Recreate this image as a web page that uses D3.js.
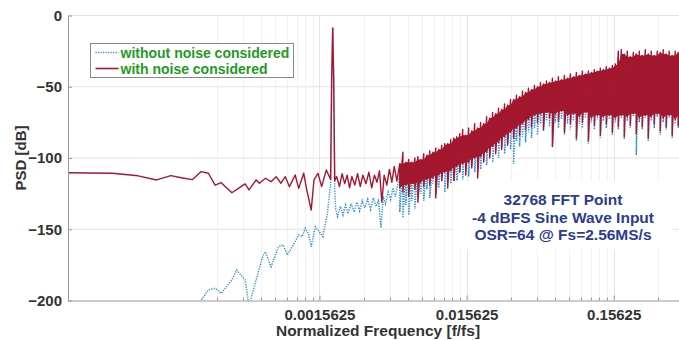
<!DOCTYPE html>
<html>
<head>
<meta charset="utf-8">
<script src="https://cdn.jsdelivr.net/npm/d3@7/dist/d3.min.js"></script>
<style>
  html, body { margin: 0; padding: 0; background: #fff; }
  svg { display: block; font-family: "Liberation Sans", Arial, sans-serif; }
</style>
</head>
<body>
<div id="chart"></div>
<script>
// FFT length, bins are k / FFT_N in normalized frequency
const FFT_N = 32768;

// x tick labels (normalized frequency) and y ticks (dB)
const xTickValues = [0.0015625, 0.015625, 0.15625];
const xTickLabels = ['0.0015625', '0.015625', '0.15625'];
const yTickValues = [0, -50, -100, -150, -200];
const minorDecades = [0.00015625, 0.0015625, 0.015625, 0.15625];
const minorMults = [2, 3, 4, 5, 6, 7, 8, 9];

// "with noise considered" - low frequency part (bin, dB)
const redLowBins = [1, 2, 3, 4, 5, 6, 7, 8, 9, 10, 11, 13, 15, 16, 17, 19, 20, 22, 24, 26, 28, 30, 32,
  35, 37, 40, 42, 45, 47, 50, 53, 57, 61, 62, 63, 64, 65, 67, 70, 73, 76, 79, 82, 85, 89, 93, 97,
  101, 106, 111, 116, 121, 126, 131, 136, 141, 147, 153, 159, 165, 172];
const redLowDb = [-110.3, -110.7, -112.5, -115.4, -112.4, -114, -115.2, -109.6, -110.7, -119, -117.3,
  -124.4, -120.1, -118.2, -122.4, -115.4, -117.7, -114.2, -116.6, -113.1, -117.7, -113.1, -120.1,
  -111.9, -121.3, -110.7, -122.5, -136.5, -115.4, -110.7, -120.1, -108.4, -115, -45, -8.8, -45, -116,
  -113, -120, -111, -118, -112, -121, -113, -119, -111, -120, -112, -118, -110, -121, -112, -117,
  -109, -131, -112, -119, -108, -117, -106, -116];

// "without noise considered" - low frequency part (bin, dB)
const blueLowBins = [7, 8, 9, 10, 11, 13, 14, 16, 17, 19, 21, 22, 24, 27, 29, 31, 34, 37, 39, 41,
  43, 45, 48, 51, 54, 58, 61, 62, 63, 64, 65, 66, 68, 71, 74, 77, 80, 84, 88, 92,
  96, 100, 104, 109, 114, 119, 124, 129, 134, 139, 144, 150, 156, 162, 168, 174];
const blueLowDb = [-212, -200, -192.6, -191.4, -195, -185.6, -178.6, -185.6, -204, -185.6,
  -169.3, -165.8, -176.3, -162.2, -161, -168, -161, -154, -155.2, -149.3,
  -152.8, -162.2, -148.2, -151.7, -155.2, -138.8, -117.8, -45, -8.8, -45,
  -120, -136, -141, -134, -140, -133, -139, -132, -138, -131,
  -137, -130, -135, -129, -136, -128, -134, -130, -149, -127,
  -132, -124, -129, -121, -127, -119];

// dense part of the spectrum: max / min over each group of bins
const bandBins = [180, 189, 198, 207, 217, 228, 239, 250, 262, 275, 288, 302, 316, 331, 347, 364, 381, 400,
  419, 439, 460, 482, 505, 529, 555, 581, 609, 638, 669, 701, 735, 770, 807, 845, 886, 928, 973, 1019,
  1068, 1119, 1173, 1229, 1288, 1350, 1414, 1482, 1553, 1628, 1706, 1788, 1873, 1963, 2058, 2156, 2260,
  2368, 2482, 2601, 2725, 2856, 2993, 3137, 3287, 3445, 3610, 3783, 3965, 4155, 4354, 4563, 4782, 5011,
  5252, 5504, 5768, 6044, 6334, 6638, 6957, 7290, 7640, 8007, 8391, 8793, 9215, 9657, 10120, 10606,
  11115, 11648, 12207, 12793, 13407, 14051, 14725, 15432, 16172];
const redHi = [-104, -96, -103, -101, -103, -100, -99, -101, -97, -98,
  -95, -96, -93, -94, -91, -90, -90, -87, -86, -85,
  -83, -80, -84, -79, -81, -76, -79, -75, -76, -71,
  -72, -68, -69, -65, -66, -62, -63, -59, -59, -56,
  -57, -53, -54, -51, -52, -49, -50, -47, -48, -46,
  -47, -44, -46, -43, -45, -42, -44, -41, -43, -40,
  -42, -39, -41, -39, -40, -38, -39, -37, -38, -36,
  -37, -35, -34, -25, -24, -27, -25, -29, -26, -27,
  -25, -28, -24, -27, -25, -28, -25, -26, -24, -27,
  -25, -28, -25, -26, -25, -27, -26];
const redLo = [-121, -124, -119, -127, -118, -122, -131, -117, -120, -115,
  -119, -114, -128, -112, -116, -110, -121, -109, -120, -106,
  -110, -104, -112, -103, -107, -100, -114, -99, -103, -96,
  -100, -92, -97, -89, -94, -85, -91, -82, -86, -79,
  -84, -76, -80, -73, -78, -70, -75, -69, -80, -68,
  -72, -92, -69, -74, -67, -82, -70, -76, -69, -86,
  -71, -75, -68, -88, -72, -77, -70, -84, -71, -76,
  -70, -82, -72, -78, -70, -85, -71, -77, -69, -83,
  -72, -78, -70, -86, -71, -76, -69, -81, -72, -78,
  -70, -84, -73, -77, -70, -80, -72];
const blueHi = [-112, -106, -110, -108, -109, -106, -104, -107, -102, -104,
  -100, -101, -98, -99, -96, -95, -94, -92, -91, -89,
  -88, -86, -86, -84, -83, -82, -81, -80, -78, -76,
  -75, -73, -72, -70, -69, -67, -66, -64, -62, -61,
  -59, -58, -57, -56, -54, -53, -52, -51, -50, -50,
  -49, -48, -48, -47, -47, -46, -46, -45, -45, -44,
  -44, -43, -43, -43, -42, -42, -41, -41, -40, -40,
  -39, -39, -37, -29, -28, -30, -29, -32, -29, -30,
  -29, -31, -28, -30, -29, -31, -29, -30, -28, -30,
  -29, -31, -29, -30, -29, -30, -30];
const blueLo = [-138, -142, -133, -140, -130, -136, -127,
  -125, -130, -122, -128, -118, -126, -121, -116, -124, -114,
  -118, -112, -120, -110, -115, -108, -113, -106, -110, -104,
  -108, -102, -105, -99, -103, -96, -100, -93, -97, -90,
  -94, -104, -88, -92, -85, -89, -82, -86, -79, -84,
  -76, -81, -74, -78, -92, -75, -79, -73, -84, -76,
  -80, -74, -88, -76, -79, -72, -90, -75, -80, -73,
  -86, -74, -79, -73, -84, -75, -80, -72, -87, -74,
  -79, -71, -98, -75, -80, -72, -88, -74, -79, -71,
  -84, -75, -80, -72, -86, -76, -79, -72, -82, -74];

const legendLabels = ['without noise considered', 'with noise considered'];
const noteLines = ['32768 FFT Point', '-4 dBFS Sine Wave Input', 'OSR=64 @ Fs=2.56MS/s'];

const RED = '#a3172f';
const BLUE = '#2f8fd3';

const width = 679, height = 340;
const margin = { top: 15.5, right: -9, bottom: 39.5, left: 68 };
const plotW = width - margin.left - margin.right;
const plotH = height - margin.top - margin.bottom;

const svg = d3.select('#chart').append('svg')
  .attr('width', width)
  .attr('height', height);

const x = d3.scaleLog().domain([1 / FFT_N, 0.5]).range([0, plotW]);
const y = d3.scaleLinear().domain([-200, 0]).range([plotH, 0]);

const g = svg.append('g')
  .attr('transform', 'translate(' + margin.left + ',' + margin.top + ')');

g.append('defs').append('clipPath')
  .attr('id', 'clip')
  .append('rect')
  .attr('width', plotW)
  .attr('height', plotH);

// grid
const minorTicks = [];
minorDecades.forEach(d => minorMults.forEach(m => {
  if (d * m <= 0.5) minorTicks.push(d * m);
}));

g.append('g').selectAll('line')
  .data(minorTicks)
  .join('line')
  .attr('x1', d => Math.round(x(d)) + 0.5)
  .attr('x2', d => Math.round(x(d)) + 0.5)
  .attr('y1', 0).attr('y2', plotH)
  .attr('stroke', '#f2f2f2');

g.append('g').selectAll('line')
  .data(xTickValues)
  .join('line')
  .attr('x1', d => Math.round(x(d)) + 0.5)
  .attr('x2', d => Math.round(x(d)) + 0.5)
  .attr('y1', 0).attr('y2', plotH)
  .attr('stroke', '#e4e4e4');

g.append('g').selectAll('line')
  .data(yTickValues.slice(0, 4))
  .join('line')
  .attr('x1', 0).attr('x2', plotW)
  .attr('y1', d => y(d)).attr('y2', d => y(d))
  .attr('stroke', '#e4e4e4');

// build the series: low part as is, dense part as max/min pairs
function series(lowBins, lowDb, hi, lo) {
  const pts = lowBins.map((k, i) => [k / FFT_N, lowDb[i]]);
  bandBins.forEach((k, i) => {
    pts.push([k / FFT_N, hi[i]]);
    pts.push([k / FFT_N, lo[i]]);
  });
  return pts;
}

// solid body of the dense band: innermost of neighbouring max/min values
function body(hi, lo) {
  return bandBins.map((k, i) => {
    const a = Math.max(0, i - 1), b = Math.min(bandBins.length - 1, i + 1);
    return {
      f: k / FFT_N,
      top: Math.min(hi[a], hi[i], hi[b]),
      bot: Math.max(lo[a], lo[i], lo[b])
    };
  });
}

const line = d3.line()
  .x(d => x(d[0]))
  .y(d => y(d[1]));

const area = d3.area()
  .x(d => x(d.f))
  .y0(d => y(d.bot))
  .y1(d => y(d.top));

const plot = g.append('g').attr('clip-path', 'url(#clip)');

plot.append('path')
  .datum(series(blueLowBins, blueLowDb, blueHi, blueLo))
  .attr('fill', 'none')
  .attr('stroke', BLUE)
  .attr('stroke-width', 1.5)
  .attr('stroke-dasharray', '1.2,1.3')
  .attr('d', line);

plot.append('path')
  .datum(body(redHi, redLo))
  .attr('fill', RED)
  .attr('d', area);

plot.append('path')
  .datum(series(redLowBins, redLowDb, redHi, redLo))
  .attr('fill', 'none')
  .attr('stroke', RED)
  .attr('stroke-width', 1.4)
  .attr('stroke-linejoin', 'round')
  .attr('d', line);

// axes
const xAxis = g.append('g')
  .attr('transform', 'translate(0,' + plotH + ')')
  .call(d3.axisBottom(x)
    .tickValues(xTickValues)
    .tickFormat((d, i) => xTickLabels[i])
    .tickSizeInner(-5)
    .tickSizeOuter(0)
    .tickPadding(9));

g.append('g')
  .attr('transform', 'translate(0,' + plotH + ')')
  .selectAll('line')
  .data(minorTicks)
  .join('line')
  .attr('x1', d => Math.round(x(d)) + 0.5)
  .attr('x2', d => Math.round(x(d)) + 0.5)
  .attr('y1', 0).attr('y2', -3)
  .attr('stroke', '#999');

const yAxis = g.append('g')
  .call(d3.axisLeft(y)
    .tickValues(yTickValues)
    .tickSizeInner(-4)
    .tickSizeOuter(0)
    .tickPadding(6));

[xAxis, yAxis].forEach(a => {
  a.select('.domain').attr('stroke', '#999');
  a.selectAll('.tick line').attr('stroke', '#999');
  a.selectAll('.tick text')
    .attr('fill', '#333')
    .style('font-size', '15px')
    .style('font-weight', 'bold')
    .style('font-family', '"Liberation Sans", Arial, sans-serif');
});

// axis titles
svg.append('text')
  .attr('x', 378)
  .attr('y', 336)
  .attr('text-anchor', 'middle')
  .attr('fill', '#333')
  .style('font-size', '15.5px')
  .style('font-weight', 'bold')
  .text('Normalized Frequency [f/fs]');

svg.append('text')
  .attr('transform', 'translate(26,' + (margin.top + plotH / 2) + ') rotate(-90)')
  .attr('text-anchor', 'middle')
  .attr('fill', '#333')
  .style('font-size', '15px')
  .style('font-weight', 'bold')
  .text('PSD [dB]');

// legend
const legend = svg.append('g').attr('transform', 'translate(90.5,43.5)');
legend.append('rect')
  .attr('width', 203)
  .attr('height', 34)
  .attr('fill', '#fff')
  .attr('stroke', '#8a8a8a');

legendLabels.forEach((lab, i) => {
  const ly = 9 + i * 16;
  legend.append('line')
    .attr('x1', 5).attr('x2', 28)
    .attr('y1', ly).attr('y2', ly)
    .attr('stroke', i === 0 ? BLUE : RED)
    .attr('stroke-width', i === 0 ? 1.3 : 1.6)
    .attr('stroke-dasharray', i === 0 ? '1.2,1.3' : null);
  legend.append('text')
    .attr('x', 30)
    .attr('y', ly + 5)
    .attr('fill', '#1f9a25')
    .style('font-size', '14px')
    .style('font-weight', 'bold')
    .text(lab);
});

// annotation box
const note = svg.append('g');
note.append('rect')
  .attr('x', 453).attr('y', 181)
  .attr('width', 220).attr('height', 68)
  .attr('fill', '#fff');
noteLines.forEach((t, i) => {
  note.append('text')
    .attr('x', 563)
    .attr('y', 205 + i * 17.5)
    .attr('text-anchor', 'middle')
    .attr('fill', '#2b3c92')
    .style('font-size', '15.5px')
    .style('font-weight', 'bold')
    .text(t);
});
</script>
</body>
</html>
